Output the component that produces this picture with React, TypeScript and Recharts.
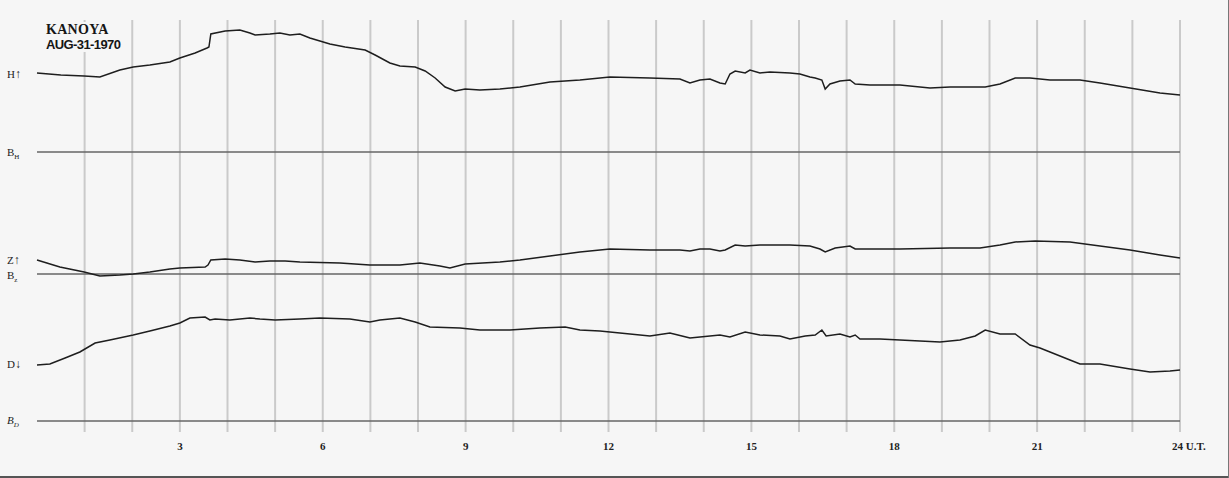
import { LineChart, Line, XAxis, YAxis, ReferenceLine } from 'recharts'

// Kanoya magnetogram, 31 Aug 1970. Values = trace deflection above its baseline (chart units)
const hourTicks = [3, 6, 9, 12, 15, 18, 21, 24]
const gridHours = [1, 2, 3, 4, 5, 6, 7, 8, 9, 10, 11, 12, 13, 14, 15, 16, 17, 18, 19, 20, 21, 22, 23, 24]

const hTimes = [
  0, 0.5, 0.99, 1.32, 1.74, 2.02, 2.37, 2.79, 3.0, 3.32, 3.57, 3.61, 3.65, 3.95, 4.26, 4.47, 4.58, 4.89,
  5.1, 5.31, 5.52, 5.73, 5.94, 6.15, 6.47, 6.89, 7.1, 7.41, 7.62, 7.94, 8.15, 8.36, 8.57, 8.78, 8.99,
  9.3, 9.72, 10.14, 10.77, 11.4, 12.03, 12.87, 13.5, 13.71, 13.92, 14.13, 14.34, 14.45, 14.55, 14.66,
  14.87, 14.97, 15.18, 15.39, 15.81, 16.02, 16.23, 16.34, 16.48, 16.55, 16.65, 16.86, 17.07, 17.18,
  17.49, 18.12, 18.75, 19.17, 19.59, 19.91, 20.22, 20.54, 20.85, 21.27, 21.9, 22.32, 22.95, 23.58, 24
]
const hValues = [
  79, 77, 76, 75, 82, 85, 87, 90, 94, 99, 104, 105, 118, 121, 122, 119, 117, 118,
  119, 117, 118, 114, 111, 108, 105, 102, 97, 89, 86, 85, 81, 74, 65, 61, 63,
  62, 63, 65, 70, 72, 75, 74, 73, 69, 72, 73, 69, 68, 78, 81,
  79, 82, 79, 80, 79, 78, 75, 74, 72, 63, 68, 71, 72, 68,
  67, 67, 64, 65, 65, 65, 68, 74, 74, 72, 72, 69, 64, 59, 57
]

const zTimes = [
  0, 0.48, 0.99, 1.32, 1.74, 2.02, 2.37, 2.79, 3.0, 3.53, 3.59, 3.65, 3.95, 4.26, 4.58, 4.89, 5.21,
  5.52, 6.36, 6.99, 7.62, 8.04, 8.46, 8.67, 8.99, 9.72, 10.14, 10.77, 11.4, 12.03, 12.87, 13.5, 13.71,
  13.92, 14.13, 14.34, 14.45, 14.66, 14.87, 15.18, 15.81, 16.23, 16.44, 16.55, 16.76, 17.07, 17.18,
  18.12, 19.17, 19.8, 20.22, 20.54, 20.96, 21.69, 22.32, 22.95, 23.58, 24
]
const zValues = [
  14, 7, 2, -2, -1, 0, 2, 5, 6, 7, 9, 14, 15, 14, 12, 13, 13,
  12, 11, 9, 9, 11, 8, 6, 10, 12, 14, 18, 22, 25, 24, 24, 23,
  25, 25, 23, 24, 29, 28, 29, 29, 28, 25, 22, 26, 28, 25,
  25, 26, 26, 29, 32, 33, 32, 28, 24, 19, 16
]

const dTimes = [
  0, 0.27, 0.59, 0.9, 1.22, 1.53, 2.02, 2.37, 2.79, 3.0, 3.21, 3.53, 3.63, 3.74, 4.05, 4.47, 4.68, 5.0,
  5.52, 5.94, 6.57, 6.99, 7.2, 7.62, 7.94, 8.25, 8.88, 9.3, 9.93, 10.56, 11.09, 11.4, 11.82, 12.24,
  12.87, 13.29, 13.71, 13.92, 14.34, 14.55, 14.87, 15.18, 15.6, 15.81, 16.13, 16.34, 16.48, 16.57,
  16.86, 17.07, 17.18, 17.28, 17.7, 18.12, 18.96, 19.38, 19.7, 19.91, 20.22, 20.54, 20.85, 21.06,
  21.27, 21.69, 21.9, 22.32, 22.95, 23.37, 23.79, 24
]
const dValues = [
  56, 57, 63, 69, 78, 81, 86, 90, 95, 98, 103, 104, 101, 102, 101, 103, 102, 101,
  102, 103, 102, 99, 101, 103, 99, 94, 93, 91, 91, 93, 94, 91, 90, 88,
  85, 88, 83, 84, 86, 84, 89, 86, 85, 82, 85, 86, 91, 85,
  87, 84, 86, 82, 82, 81, 79, 81, 85, 91, 87, 87, 76, 73,
  69, 61, 57, 57, 52, 49, 50, 51
]

const toPoints = (t: number[], v: number[]) => t.map((hour, i) => ({ hour, v: v[i] }))

const W = 1229
const H = 478
const serif = '"Liberation Serif", "DejaVu Serif", serif'

const HourTick = (props: any) => {
  const { x, y, payload } = props
  const last = payload.value === 24
  return (
    <text
      x={x}
      y={y + 10}
      textAnchor={last ? 'start' : 'middle'}
      dx={last ? -8 : 0}
      fontFamily={serif}
      fontWeight="bold"
      fontSize={11}
      fill="#222"
    >
      {payload.value}
      {last ? ' U.T.' : ''}
    </text>
  )
}

const side = (top: number, node: any, extra: any = {}) => (
  <div
    style={{
      position: 'absolute',
      left: 7,
      top,
      fontFamily: serif,
      fontSize: 11,
      color: '#222',
      lineHeight: 1,
      ...extra
    }}
  >
    {node}
  </div>
)

export default function App() {
  return (
    <div
      style={{
        position: 'absolute',
        left: 0,
        top: 0,
        width: W,
        height: H,
        background: '#f6f6f6',
        overflow: 'hidden'
      }}
    >
      <LineChart width={W} height={H} margin={{ top: 20, right: 49, bottom: 0, left: 37 }}>
        <XAxis
          dataKey="hour"
          type="number"
          domain={[0, 24]}
          ticks={hourTicks}
          height={46}
          axisLine={false}
          tickLine={false}
          tick={<HourTick />}
          interval={0}
        />
        <YAxis yAxisId="h" hide domain={[-280, 132]} allowDataOverflow />
        <YAxis yAxisId="z" hide domain={[-158, 254]} allowDataOverflow />
        <YAxis yAxisId="d" hide domain={[-11, 401]} allowDataOverflow />
        {gridHours.map((hr) => (
          <ReferenceLine key={hr} x={hr} yAxisId="h" stroke="#cacaca" strokeWidth={2} />
        ))}
        <ReferenceLine y={0} yAxisId="h" stroke="#666" strokeWidth={1.5} />
        <ReferenceLine y={0} yAxisId="z" stroke="#666" strokeWidth={1.5} />
        <ReferenceLine y={0} yAxisId="d" stroke="#666" strokeWidth={1.5} />
        <Line
          yAxisId="h"
          data={toPoints(hTimes, hValues)}
          dataKey="v"
          stroke="#1e1e1e"
          strokeWidth={1.5}
          dot={false}
          isAnimationActive={false}
        />
        <Line
          yAxisId="z"
          data={toPoints(zTimes, zValues)}
          dataKey="v"
          stroke="#1e1e1e"
          strokeWidth={1.5}
          dot={false}
          isAnimationActive={false}
        />
        <Line
          yAxisId="d"
          data={toPoints(dTimes, dValues)}
          dataKey="v"
          stroke="#1e1e1e"
          strokeWidth={1.5}
          dot={false}
          isAnimationActive={false}
        />
      </LineChart>

      <div
        style={{
          position: 'absolute',
          left: 44,
          top: 22,
          background: '#f6f6f6',
          padding: '1px 2px',
          color: '#151515',
          lineHeight: 1
        }}
      >
        <div style={{ fontFamily: serif, fontWeight: 'bold', fontSize: 14, letterSpacing: 0.3 }}>KANOYA</div>
        <div
          style={{
            fontFamily: '"Liberation Sans Narrow", "Liberation Sans", sans-serif',
            fontWeight: 'bold',
            fontSize: 13,
            letterSpacing: -0.6,
            marginTop: 1
          }}
        >
          AUG-31-1970
        </div>
      </div>

      {side(68, <span>H<span style={{ fontSize: 12 }}>↑</span></span>)}
      {side(147, <span>B<sub style={{ fontSize: 7 }}>H</sub></span>)}
      {side(254, <span>Z<span style={{ fontSize: 12 }}>↑</span></span>)}
      {side(270, <span>B<sub style={{ fontSize: 7 }}>z</sub></span>)}
      {side(358, <span>D<span style={{ fontSize: 12 }}>↓</span></span>)}
      {side(415, <span style={{ fontStyle: 'italic' }}>B<sub style={{ fontSize: 7 }}>D</sub></span>)}

      <div style={{ position: 'absolute', left: 0, bottom: 0, width: W, height: 2, background: '#555' }} />
      <div style={{ position: 'absolute', right: 0, top: 0, width: 1, height: H, background: '#777' }} />
    </div>
  )
}
